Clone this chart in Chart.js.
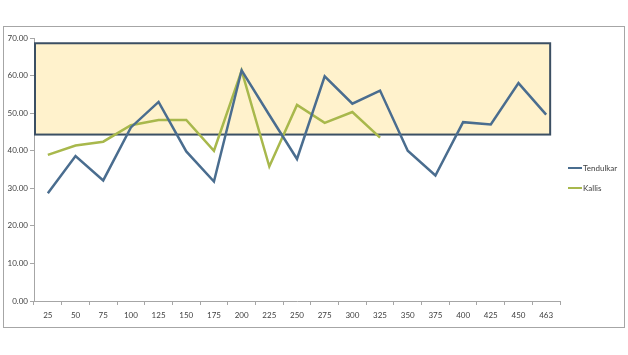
<!DOCTYPE html>
<html>
<head>
<meta charset="utf-8">
<script src="https://cdn.jsdelivr.net/npm/chart.js@4/dist/chart.umd.min.js"></script>
<style>
  html, body { margin:0; padding:0; background:#fff; }
  #frame { position:absolute; left:3px; top:26px; width:622px; height:302px; box-sizing:border-box; border:1px solid #a6a6a6; }
  #c { position:absolute; left:0; top:0; }
</style>
</head>
<body>
<div id="frame"><canvas id="c" width="620" height="300"></canvas></div>
<script>
const categories = ['25','50','75','100','125','150','175','200','225','250','275','300','325','350','375','400','425','450','463'];
const tendulkar = [28.7, 38.6, 32.1, 46.2, 53.0, 39.8, 31.8, 61.4, 49.5, 37.8, 59.8, 52.5, 56.0, 40.0, 33.4, 47.6, 47.0, 58.0, 49.6];
const kallis    = [38.9, 41.4, 42.4, 46.8, 48.2, 48.2, 40.0, 61.3, 35.8, 52.2, 47.4, 50.3, 43.5, null, null, null, null, null, null];
const yTicks = [0, 10, 20, 30, 40, 50, 60, 70];
const bandRange = [44.3, 68.6];

const font = { family: 'Lato, "Liberation Sans", sans-serif', size: 8 };

const bandPlugin = {
  id: 'band',
  beforeDatasetsDraw(chart) {
    const { ctx, chartArea, scales } = chart;
    const yTop = scales.y.getPixelForValue(bandRange[1]);
    const yBot = scales.y.getPixelForValue(bandRange[0]);
    const xL = chartArea.left + 1;
    const xR = scales.x.getPixelForValue(categories.length - 1) + 4;
    ctx.save();
    ctx.fillStyle = '#fff2cc';
    ctx.fillRect(xL, yTop, xR - xL, yBot - yTop);
    ctx.strokeStyle = '#3b4f63';
    ctx.lineWidth = 2;
    ctx.strokeRect(xL, yTop, xR - xL, yBot - yTop);
    ctx.restore();
  }
};

const legendPlugin = {
  id: 'myLegend',
  afterDraw(chart) {
    const { ctx } = chart;
    ctx.save();
    ctx.font = '8px ' + font.family;
    ctx.textBaseline = 'middle';
    chart.data.datasets.forEach((ds, i) => {
      const y = 141 + i * 20;
      ctx.strokeStyle = ds.borderColor;
      ctx.lineWidth = 2;
      ctx.beginPath();
      ctx.moveTo(564, y);
      ctx.lineTo(578, y);
      ctx.stroke();
      ctx.fillStyle = '#404040';
      ctx.fillText(ds.label, 579, y);
    });
    ctx.restore();
  }
};

new Chart(document.getElementById('c'), {
  type: 'line',
  data: {
    labels: categories,
    datasets: [
      { label: 'Tendulkar', data: tendulkar, borderColor: '#4a6d8f', borderWidth: 2.5, pointRadius: 0, tension: 0, spanGaps: false },
      { label: 'Kallis', data: kallis, borderColor: '#a8b84c', borderWidth: 2.5, pointRadius: 0, tension: 0, spanGaps: false }
    ]
  },
  options: {
    responsive: false,
    animation: false,
    layout: { padding: { left: 0, right: 64, top: 11, bottom: 0 } },
    plugins: { legend: { display: false }, tooltip: { enabled: false } },
    scales: {
      x: {
        type: 'category',
        offset: true,
        grid: { offset: true, drawOnChartArea: false, drawTicks: true, tickLength: 4, color: '#a6a6a6' },
        border: { color: '#a6a6a6' },
        ticks: { font, color: '#404040', padding: 6, maxRotation: 0, autoSkip: false },
        afterFit(s) { s.height = 26; }
      },
      y: {
        min: 0, max: 70,
        afterBuildTicks(s) { s.ticks = yTicks.map(v => ({ value: v })); },
        grid: { drawOnChartArea: false, drawTicks: true, tickLength: 4, color: '#a6a6a6' },
        border: { color: '#a6a6a6' },
        ticks: { font, color: '#404040', padding: 2, callback: v => Number(v).toFixed(2) },
        afterFit(s) { s.width = 30; }
      }
    }
  },
  plugins: [bandPlugin, legendPlugin]
});
</script>
</body>
</html>
